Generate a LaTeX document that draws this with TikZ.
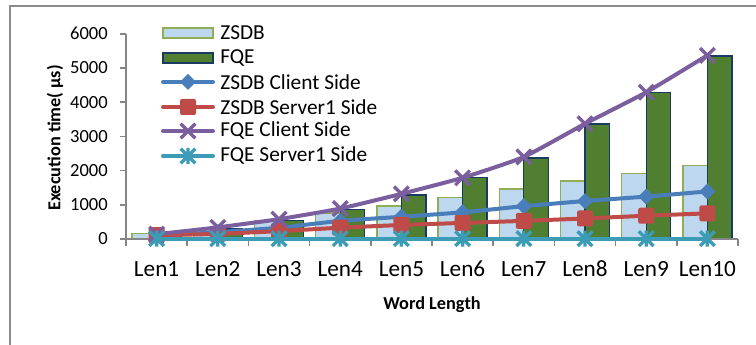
\documentclass[tikz,border=0pt]{standalone}
\usepackage{fontspec}
\setmainfont{Carlito}
\definecolor{framegray}{HTML}{8C8C8C}
\definecolor{axisgray}{HTML}{868686}
\definecolor{zsdbfill}{HTML}{BDD7EE}
\definecolor{zsdbedge}{HTML}{8FAE55}
\definecolor{fqefill}{HTML}{507F32}
\definecolor{fqeedge}{HTML}{1B3A62}
\definecolor{zsdbblue}{HTML}{4A7EBB}
\definecolor{zsdbred}{HTML}{BE4B48}
\definecolor{fqepurple}{HTML}{7B5E9E}
\definecolor{fqeteal}{HTML}{3C9CB6}
\tikzset{
  diamondmark/.pic={\fill[zsdbblue] (0,-6pt) -- (6pt,0) -- (0,6pt) -- (-6pt,0) -- cycle;},
  squaremark/.pic={\fill[zsdbred,rounded corners=1.5pt] (-6pt,-6pt) rectangle (6pt,6pt);},
  crossmark/.pic={\draw[fqepurple,line width=2.5pt] (-5.5pt,-5.5pt) -- (5.5pt,5.5pt) (-5.5pt,5.5pt) -- (5.5pt,-5.5pt);},
  starmark/.pic={\draw[fqeteal,line width=2.5pt] (-5.5pt,-5.5pt) -- (5.5pt,5.5pt) (-5.5pt,5.5pt) -- (5.5pt,-5.5pt) (0,-6pt) -- (0,6pt);}
}
\begin{document}
\begin{tikzpicture}[x=0.75pt,y=0.75pt,
  frameline/.style={draw=framegray,line width=1pt},
  axisline/.style={draw=axisgray,line width=1.2pt},
  zsdbbar/.style={draw=zsdbedge,fill=zsdbfill,line width=1pt},
  fqebar/.style={draw=fqeedge,fill=fqefill,line width=1pt},
  series/.style={line width=3pt,line join=round,line cap=round},
  ticklabel/.style={font=\fontsize{13.9}{15}\selectfont,anchor=east,inner sep=0pt},
  catlabel/.style={font=\fontsize{17.4}{20}\selectfont,inner sep=0pt},
  legendtext/.style={font=\fontsize{16}{18}\selectfont,anchor=west,inner sep=0pt},
  axistitle/.style={font=\bfseries\fontsize{13.7}{16}\selectfont,inner sep=0pt}]
\useasboundingbox (0,0) rectangle (756,345);
% chart frame
\draw[frameline] (10,-5) -- (10,339) -- (770,339);

% plot area
\begin{scope}[shift={(94.5pt,79.5pt)},x=45.9pt,y=0.02565pt]
	% bars
	\foreach \i/\a/\b in {1/160/130,2/300/290,3/540/540,4/760/870,5/960/1290,
	                      6/1220/1790,7/1460/2370,8/1700/3360,9/1920/4280,10/2140/5350}{
		\draw[zsdbbar] (\i-0.9,0) rectangle (\i-0.5,\a);
		\draw[fqebar] (\i-0.5,0) rectangle (\i-0.1,\b);
	}
	% axes
	\draw[axisline] (0,0) -- (0,6000);
	\foreach \v in {0,1000,...,6000}{
		\draw[axisline] (0,\v) -- ([xshift=-4.5pt]0,\v);
		\node (yl\v) at ([xshift=-13.5pt]0,\v) [ticklabel] {\v};
	}
	\draw[axisline] (0,0) -- (10,0);
	\foreach \i in {0,...,10}
		\draw[axisline] (\i,0) -- ([yshift=-5.25pt]\i,0);
	\foreach \i in {1,...,10}
		\node (cat\i) at ([yshift=-22.5pt]\i-0.5,0) [catlabel] {Len\i};
	\node (xtitle) at ([yshift=-49.5pt]5,0) [axistitle] {Word Length};

	% series
	\draw[series,zsdbblue] plot[smooth,tension=0.3] coordinates {(0.5,90) (1.5,200) (2.5,330) (3.5,530) (4.5,650)
		(5.5,780) (6.5,960) (7.5,1110) (8.5,1240) (9.5,1390)};
	\foreach \i/\v in {1/90,2/200,3/330,4/530,5/650,6/780,7/960,8/1110,9/1240,10/1390}
		\pic at (\i-0.5,\v) {diamondmark};
	\draw[series,zsdbred] plot[smooth,tension=0.3] coordinates {(0.5,110) (1.5,150) (2.5,230) (3.5,330) (4.5,410)
		(5.5,470) (6.5,530) (7.5,600) (8.5,680) (9.5,750)};
	\foreach \i/\v in {1/110,2/150,3/230,4/330,5/410,6/470,7/530,8/600,9/680,10/750}
		\pic at (\i-0.5,\v) {squaremark};
	\draw[series,fqepurple] plot[smooth,tension=0.3] coordinates {(0.5,140) (1.5,340) (2.5,580) (3.5,890) (4.5,1320)
		(5.5,1790) (6.5,2400) (7.5,3370) (8.5,4290) (9.5,5370)};
	\foreach \i/\v in {1/140,2/340,3/580,4/890,5/1320,6/1790,7/2400,8/3370,9/4290,10/5370}
		\pic at (\i-0.5,\v) {crossmark};
	\draw[series,fqeteal] (0.5,10) -- (9.5,10);
	\foreach \i in {1,...,10}
		\pic at (\i-0.5,10) {starmark};
\end{scope}

\node (ytitle) at (55,207) [axistitle,rotate=90] {Execution time( µs)};

% legend
\draw[zsdbbar] (163,307) rectangle (213,317);
\node (lgzsdb) at (220,312) [legendtext] {ZSDB};
\draw[fqebar] (163,282) rectangle (213,292);
\node (lgfqe) at (220,287) [legendtext] {FQE};
\draw[series,zsdbblue] (163,263) -- (213,263);
\pic at (188,263) {diamondmark};
\node (lgzc) at (220,263) [legendtext] {ZSDB Client Side};
\draw[series,zsdbred] (163,238) -- (213,238);
\pic at (188,238) {squaremark};
\node (lgzs) at (220,238) [legendtext] {ZSDB Server1 Side};
\draw[series,fqepurple] (163,214) -- (213,214);
\pic at (188,214) {crossmark};
\node (lgfc) at (220,214) [legendtext] {FQE Client Side};
\draw[series,fqeteal] (163,189) -- (213,189);
\pic at (188,189) {starmark};
\node (lgfs) at (220,189) [legendtext] {FQE Server1 Side};
\end{tikzpicture}
\end{document}
